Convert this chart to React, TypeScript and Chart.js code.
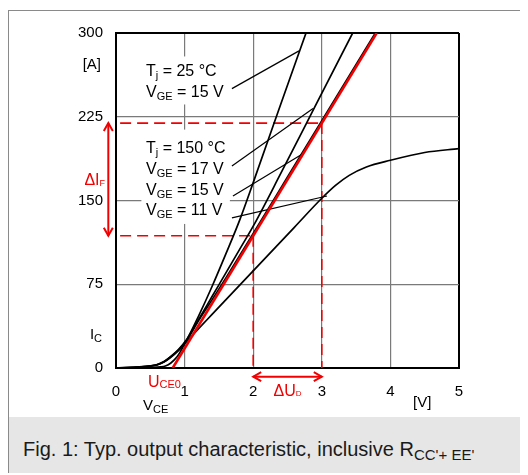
import React, { useEffect, useRef } from 'react';
import { Chart, registerables } from 'chart.js';

Chart.register(...registerables);

const FONT = "'Liberation Sans', Arial, Helvetica, sans-serif";
const RED = '#f00000';
const GRID = '#7a7a7a';

// ---- axes ----
const xTickValues = [0, 1, 2, 3, 4, 5];
const xTickLabels = ['0', '1', '2', '3', '4', '5'];
const yTickValues = [0, 75, 150, 225, 300];
const yTickLabels = ['0', '75', '150', '225', '300'];

// ---- series (VCE in V, IC in A) ----
// Tj = 25 °C, VGE = 15 V
const v25_15 = [0, 0.5, 0.65, 0.72, 0.8, 0.89, 0.96, 1.035, 1.2, 1.4, 1.6, 1.8, 2.0, 2.4, 2.77];
const i25_15 = [0, 0.6, 1.0, 1.8, 4.5, 10, 17, 25.5, 46, 73, 102, 132, 166, 236, 300];
// Tj = 150 °C, VGE = 17 V
const v150_17 = [0, 0.3, 0.5, 0.6, 0.7, 0.79, 0.91, 1.035, 1.2, 1.4, 1.6, 1.8, 2.0, 2.4, 2.9, 3.45];
const i150_17 = [0, 0.9, 1.9, 3.1, 5.8, 9.9, 16.6, 26, 43, 64, 85, 106, 127, 174, 234, 300];
// Tj = 150 °C, VGE = 15 V
const v150_15 = [0, 0.3, 0.5, 0.6, 0.7, 0.79, 0.91, 1.035, 1.2, 1.4, 1.6, 2.0, 2.5, 3.0, 3.78];
const i150_15 = [0, 0.8, 1.8, 2.9, 5.6, 9.6, 16, 25, 42, 61, 80.5, 120.5, 171, 221.5, 300];
// Tj = 150 °C, VGE = 11 V
const v150_11 = [0, 0.3, 0.5, 0.6, 0.7, 0.79, 0.91, 1.035, 1.2, 1.4, 1.8, 2.2, 2.6, 3.0, 3.2, 3.4, 3.65, 4.0, 4.5, 5.0];
const i150_11 = [0, 0.7, 1.7, 2.8, 5.3, 9.1, 15.5, 24, 35, 48, 74, 100, 126, 152, 163.5, 172.5, 180, 186, 193, 196.5];

// tangent (red) line: UCE0 and slope through the two operating points
const tangentV = [0.827, 3.8];
const tangentI = [0, 300];

// construction values
const deltaIHigh = 219.3;
const deltaILow = 118.4;
const uLow = 2;
const uHigh = 3;
const dashStartV = 0.06;

// leader lines (from label to curve), in data units
const leaderFromV = [1.69, 1.69, 1.705, 1.69];
const leaderFromI = [250.2, 180.8, 154.0, 134.5];
const leaderToV = [2.668, 2.872, 2.711, 3.076];
const leaderToI = [284, 232.4, 191.4, 154];

// text labels
const curveLabelTexts = ['T_{j} = 25 °C', 'V_{GE} = 15 V', 'T_{j} = 150 °C', 'V_{GE} = 17 V', 'V_{GE} = 15 V', 'V_{GE} = 11 V'];
const curveLabelV = [0.437, 0.437, 0.437, 0.437, 0.437, 0.437];
const curveLabelI = [266.3, 247.6, 198, 179.3, 160.3, 142.5];

const toXY = (vs: number[], is: number[]) => vs.map((v, k) => ({ x: v, y: is[k] }));

function parseRich(text: string) {
  const parts: { t: string; sub: boolean }[] = [];
  const re = /_\{([^}]*)\}/g;
  let last = 0;
  let m: RegExpExecArray | null;
  while ((m = re.exec(text))) {
    if (m.index > last) parts.push({ t: text.slice(last, m.index), sub: false });
    parts.push({ t: m[1], sub: true });
    last = m.index + m[0].length;
  }
  if (last < text.length) parts.push({ t: text.slice(last), sub: false });
  return parts;
}

function drawRich(
  ctx: CanvasRenderingContext2D,
  text: string,
  x: number,
  yMid: number,
  size: number,
  subSize: number,
  subShift: number,
  color: string,
  align: 'left' | 'right' | 'center'
) {
  const parts = parseRich(text);
  const widths = parts.map((p) => {
    ctx.font = `${p.sub ? subSize : size}px ${FONT}`;
    return ctx.measureText(p.t).width;
  });
  const total = widths.reduce((a, b) => a + b, 0);
  let cx = align === 'left' ? x : align === 'right' ? x - total : x - total / 2;
  const base = yMid + size * 0.358;
  ctx.fillStyle = color;
  ctx.textAlign = 'left';
  ctx.textBaseline = 'alphabetic';
  parts.forEach((p, k) => {
    ctx.font = `${p.sub ? subSize : size}px ${FONT}`;
    ctx.fillText(p.t, cx, p.sub ? base + subShift : base);
    cx += widths[k];
  });
}

function drawArrow(ctx: CanvasRenderingContext2D, x0: number, y0: number, x1: number, y1: number) {
  const len = 8;
  const half = 4.5;
  ctx.save();
  ctx.strokeStyle = RED;
  ctx.lineWidth = 2;
  ctx.beginPath();
  ctx.moveTo(x0, y0);
  ctx.lineTo(x1, y1);
  ctx.stroke();
  const head = (tx: number, ty: number, fx: number, fy: number) => {
    const a = Math.atan2(ty - fy, tx - fx);
    const bx = tx - len * Math.cos(a);
    const by = ty - len * Math.sin(a);
    const nx = -Math.sin(a) * half;
    const ny = Math.cos(a) * half;
    ctx.beginPath();
    ctx.moveTo(bx + nx, by + ny);
    ctx.lineTo(tx, ty);
    ctx.lineTo(bx - nx, by - ny);
    ctx.stroke();
  };
  head(x0, y0, x1, y1);
  head(x1, y1, x0, y0);
  ctx.restore();
}

const annotPlugin = {
  id: 'annot',
  beforeDatasetsDraw(chart: any) {
    const { ctx } = chart;
    const xs = chart.scales.x;
    const ys = chart.scales.y;
    // white backgrounds behind the label blocks (interrupt the grid)
    const boxes = [
      [0.35, 1.68, 236, 279],
      [0.37, 1.66, 129, 213.5],
    ];
    ctx.save();
    ctx.fillStyle = '#ffffff';
    boxes.forEach(([v0, v1, i0, i1]) => {
      const x0 = xs.getPixelForValue(v0);
      const x1 = xs.getPixelForValue(v1);
      const y0 = ys.getPixelForValue(i1);
      const y1 = ys.getPixelForValue(i0);
      ctx.fillRect(x0, y0, x1 - x0, y1 - y0);
    });
    ctx.restore();
  },
  afterDatasetsDraw(chart: any) {
    const { ctx } = chart;
    const xs = chart.scales.x;
    const ys = chart.scales.y;
    const px = (v: number) => xs.getPixelForValue(v);
    const py = (i: number) => ys.getPixelForValue(i);
    ctx.save();
    curveLabelTexts.forEach((t, k) => {
      drawRich(ctx, t, px(curveLabelV[k]), py(curveLabelI[k]), 16, 11, 3, '#000', 'left');
    });
    // axis side labels
    drawRich(ctx, '[A]', px(-0.219), py(272.5), 15, 11, 3, '#000', 'right');
    drawRich(ctx, 'I_{C}', px(-0.204), py(31.2), 15, 11, 3, '#000', 'right');
    drawRich(ctx, 'V_{CE}', px(0.394), py(-33), 15, 11, 3, '#000', 'left');
    drawRich(ctx, '[V]', px(4.33), py(-30.3), 15, 11, 3, '#000', 'left');
    // red construction labels
    drawRich(ctx, 'ΔI_{F}', px(-0.16), py(169.2), 16, 9, 1, RED, 'right');
    drawRich(ctx, 'U_{CE0}', px(0.466), py(-12.2), 16, 11, 1, RED, 'left');
    drawRich(ctx, 'ΔU_{D}', px((uLow + uHigh) / 2), py(-19.6), 16, 8, 0, RED, 'center');
    // arrows
    drawArrow(ctx, px(-0.112), py(deltaIHigh), px(-0.112), py(deltaILow));
    drawArrow(ctx, px(uLow), py(-7.75), px(uHigh), py(-7.75));
    ctx.restore();
  },
};

export default function App() {
  const ref = useRef<HTMLCanvasElement | null>(null);

  useEffect(() => {
    document.documentElement.style.overflow = 'hidden';
    document.body.style.overflow = 'hidden';
    if (!ref.current) return;
    const curve = (vs: number[], is: number[]) => ({
      data: toXY(vs, is),
      showLine: true,
      borderColor: '#000',
      borderWidth: 1.7,
      pointRadius: 0,
      fill: false,
      cubicInterpolationMode: 'monotone' as const,
      order: 2,
    });
    const dashed = (vs: number[], is: number[]) => ({
      data: toXY(vs, is),
      showLine: true,
      borderColor: RED,
      borderWidth: 1.6,
      borderDash: [11, 6],
      pointRadius: 0,
      fill: false,
      tension: 0,
      order: 3,
    });
    const leaders = leaderFromV.map((v, k) => ({
      data: [
        { x: v, y: leaderFromI[k] },
        { x: leaderToV[k], y: leaderToI[k] },
      ],
      showLine: true,
      borderColor: '#000',
      borderWidth: 1.2,
      pointRadius: 0,
      fill: false,
      tension: 0,
      order: 2,
    }));
    const edgeX = (c: any) => c.tick && (c.tick.value === 0 || c.tick.value === 5);
    const edgeY = (c: any) => c.tick && (c.tick.value === 0 || c.tick.value === 300);
    const chart = new Chart(ref.current, {
      type: 'scatter',
      data: {
        datasets: [
          {
            data: toXY(tangentV, tangentI),
            showLine: true,
            borderColor: RED,
            borderWidth: 2.6,
            pointRadius: 0,
            fill: false,
            tension: 0,
            order: 0,
          },
          curve(v25_15, i25_15),
          curve(v150_17, i150_17),
          curve(v150_15, i150_15),
          curve(v150_11, i150_11),
          dashed([dashStartV, uHigh], [deltaIHigh, deltaIHigh]),
          dashed([dashStartV, uLow], [deltaILow, deltaILow]),
          dashed([uLow, uLow], [deltaILow, 0]),
          dashed([uHigh, uHigh], [deltaIHigh, 0]),
          ...leaders,
        ] as any,
      },
      plugins: [annotPlugin],
      options: {
        animation: false,
        responsive: false,
        events: [],
        layout: { padding: { top: 20, right: 69, left: 0, bottom: 0 } },
        plugins: { legend: { display: false }, tooltip: { enabled: false } },
        scales: {
          x: {
            type: 'linear',
            min: 0,
            max: 5,
            afterBuildTicks: (s: any) => {
              s.ticks = xTickValues.map((v) => ({ value: v }));
            },
            afterFit: (s: any) => {
              s.height = 49;
            },
            ticks: {
              color: '#000',
              font: { family: FONT, size: 15 },
              padding: 15,
              maxRotation: 0,
              callback: (v: any) => {
                const k = xTickValues.indexOf(Number(v));
                return k >= 0 ? xTickLabels[k] : '';
              },
            },
            grid: {
              drawTicks: false,
              color: (c: any) => (edgeX(c) ? '#000' : GRID),
              lineWidth: (c: any) => (edgeX(c) ? 2 : 1.2),
            },
            border: { display: true, color: '#000', width: 2 },
          },
          y: {
            type: 'linear',
            min: 0,
            max: 300,
            afterBuildTicks: (s: any) => {
              s.ticks = yTickValues.map((v) => ({ value: v }));
            },
            afterFit: (s: any) => {
              s.width = 107;
            },
            ticks: {
              color: '#000',
              font: { family: FONT, size: 15 },
              padding: 13,
              callback: (v: any) => {
                const k = yTickValues.indexOf(Number(v));
                return k >= 0 ? yTickLabels[k] : '';
              },
            },
            grid: {
              drawTicks: false,
              color: (c: any) => (edgeY(c) ? '#000' : GRID),
              lineWidth: (c: any) => (edgeY(c) ? 2 : 1.2),
            },
            border: { display: true, color: '#000', width: 2 },
          },
        },
      } as any,
    });
    return () => chart.destroy();
  }, []);

  return (
    <div
      style={{
        position: 'relative',
        top: 2,
        width: 520,
        height: 465,
        boxSizing: 'border-box',
        borderTop: '1px solid #8a8a8a',
        borderLeft: '1px solid #8a8a8a',
        overflow: 'hidden',
        background: '#fff',
      }}
    >
      <canvas
        ref={ref}
        width={519}
        height={406}
        style={{ position: 'absolute', left: 0, top: 0, width: 519, height: 406, display: 'block' }}
      />
      <div style={{ position: 'absolute', left: 0, top: 406, width: 519, height: 58, background: '#e6e6e6' }}>
        <div
          style={{
            position: 'absolute',
            left: 14,
            top: 21,
            fontFamily: FONT,
            fontSize: 20,
            lineHeight: '23px',
            color: '#1a1a1a',
            whiteSpace: 'nowrap',
          }}
        >
          Fig. 1: Typ. output characteristic, inclusive R
          <span style={{ fontSize: 15, position: 'relative', top: 4 }}>CC'+ EE'</span>
        </div>
      </div>
    </div>
  );
}
